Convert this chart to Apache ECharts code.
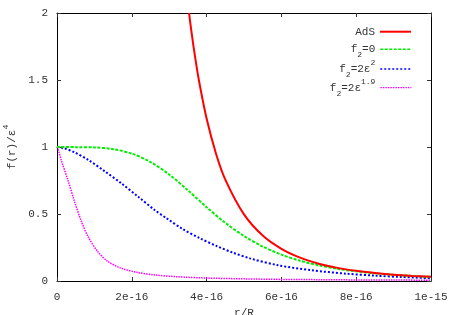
<!DOCTYPE html>
<html>
<head>
<meta charset="utf-8">
<script src="https://cdn.jsdelivr.net/npm/echarts@6/dist/echarts.min.js"></script>
<style>html,body{margin:0;padding:0;background:#fff}#c{width:450px;height:315px}</style>
</head>
<body>
<div id="c"></div>
<script>
// tick labels
const xTickLabels = ['0', '2e-16', '4e-16', '6e-16', '8e-16', '1e-15'];
const yTickLabels = ['0', '0.5', '1', '1.5', '2'];

// AdS
const adsR = [3.53e-16, 3.6e-16, 3.7e-16, 3.8e-16, 4.0e-16, 4.25e-16, 4.5e-16, 5.0e-16, 5.5e-16, 6.0e-16, 6.5e-16, 7.0e-16, 7.5e-16, 8.0e-16, 8.5e-16, 9.0e-16, 9.5e-16, 1.0e-15];
const adsF = [2.0, 1.849, 1.657, 1.489, 1.213, 0.952, 0.757, 0.497, 0.339, 0.240, 0.174, 0.129, 0.098, 0.076, 0.060, 0.047, 0.038, 0.031];

// f2 = 0
const f0R = [0, 0.5e-16, 1.0e-16, 1.5e-16, 2.0e-16, 2.5e-16, 3.0e-16, 3.5e-16, 4.0e-16, 4.5e-16, 5.0e-16, 5.5e-16, 6.0e-16, 6.5e-16, 7.0e-16, 7.5e-16, 8.0e-16, 8.5e-16, 9.0e-16, 9.5e-16, 1.0e-15];
const f0F = [1.0, 0.999, 0.997, 0.984, 0.951, 0.888, 0.795, 0.677, 0.551, 0.434, 0.336, 0.257, 0.197, 0.151, 0.117, 0.091, 0.072, 0.057, 0.046, 0.037, 0.031];

// f2 = 2 eps^2
const f2R = [0, 0.2e-16, 0.47e-16, 0.83e-16, 1.27e-16, 1.72e-16, 2.17e-16, 2.61e-16, 2.93e-16, 3.37e-16, 3.82e-16, 4.27e-16, 4.71e-16, 5.16e-16, 5.92e-16, 6.81e-16, 7.71e-16, 8.5e-16, 9.2e-16, 1.0e-15];
const f2F = [1.0, 0.99, 0.96, 0.905, 0.82, 0.729, 0.629, 0.53, 0.468, 0.386, 0.319, 0.261, 0.211, 0.169, 0.117, 0.080, 0.055, 0.040, 0.030, 0.021];

// f2 = 2 eps^1.9
const f19R = [0, 0.05e-16, 0.11e-16, 0.29e-16, 0.47e-16, 0.65e-16, 0.83e-16, 1.09e-16, 1.36e-16, 1.72e-16, 2.17e-16, 2.61e-16, 3.2e-16, 4.0e-16, 5.0e-16, 6.0e-16, 7.0e-16, 8.0e-16, 9.0e-16, 1.0e-15];
const f19F = [1.0, 0.965, 0.905, 0.754, 0.592, 0.446, 0.331, 0.219, 0.146, 0.095, 0.063, 0.045, 0.032, 0.022, 0.016, 0.012, 0.010, 0.008, 0.007, 0.006];

const pairs = (xs, ys) => xs.map((x, i) => [x, ys[i]]);

const FONT = 'Liberation Mono';
const TXT = '#333';
const rich = {
  m: { fontFamily: FONT, fontSize: 11, color: TXT, lineHeight: 20 },
  sub: { fontFamily: FONT, fontSize: 8, color: TXT, lineHeight: 8, verticalAlign: 'bottom' },
  sup: { fontFamily: FONT, fontSize: 8, color: TXT, lineHeight: 8, verticalAlign: 'top' }
};
const names = ['AdS', 'f2=0', 'f2=2e2', 'f2=2e1.9'];
const richNames = {
  'AdS': '{m|AdS}',
  'f2=0': '{m|f}{sub|2}{m|=0}',
  'f2=2e2': '{m|f}{sub|2}{m|=2ε}{sup|2}',
  'f2=2e1.9': '{m|f}{sub|2}{m|=2ε}{sup|1.9}'
};
const legendCenters = [26.7, 44.3, 64, 82.7];
const legendWidths = [2, 1.5, 1.5, 1.2];

const chart = echarts.init(document.getElementById('c'), null, { renderer: 'canvas' });
const axisLineStyle = { color: '#000', width: 1 };
const tickStyle = { color: '#333', width: 1 };
const common = { symbol: 'none', smooth: 0.3, type: 'line' };

chart.setOption({
  backgroundColor: '#fff',
  animation: false,
  grid: { left: 57, right: 19, top: 13, bottom: 34, containLabel: false, outerBoundsMode: 'none' },
  legend: names.map((n, i) => ({
    data: [n],
    right: 33,
    top: legendCenters[i] - 10,
    align: 'right',
    itemWidth: 31,
    itemHeight: 20,
    itemStyle: { opacity: 0 },
    lineStyle: { width: legendWidths[i] },
    formatter: () => richNames[n],
    textStyle: { rich: rich, fontFamily: FONT, fontSize: 11, color: TXT, lineHeight: 20 }
  })),
  xAxis: [{
    type: 'value', min: 0, max: 1e-15, interval: 2e-16, position: 'bottom',
    axisLine: { show: true, onZero: false, lineStyle: axisLineStyle },
    axisTick: { show: true, inside: true, length: 4, lineStyle: tickStyle },
    splitLine: { show: false },
    axisLabel: { fontFamily: FONT, fontSize: 11, color: TXT, margin: 11,
      formatter: v => xTickLabels[Math.round(v / 2e-16)] },
    name: 'r/R', nameLocation: 'middle', nameGap: 18,
    nameTextStyle: { fontFamily: FONT, fontSize: 11, color: TXT }
  }, {
    type: 'value', min: 0, max: 1e-15, interval: 2e-16, position: 'top',
    axisLine: { show: true, onZero: false, lineStyle: axisLineStyle },
    axisTick: { show: true, inside: true, length: 4, lineStyle: tickStyle },
    splitLine: { show: false }, axisLabel: { show: false }
  }],
  yAxis: [{
    type: 'value', min: 0, max: 2, interval: 0.5, position: 'left',
    axisLine: { show: true, onZero: false, lineStyle: axisLineStyle },
    axisTick: { show: true, inside: true, length: 4, lineStyle: tickStyle },
    splitLine: { show: false },
    axisLabel: { fontFamily: FONT, fontSize: 11, color: TXT, margin: 9,
      formatter: v => yTickLabels[Math.round(v / 0.5)] },
    name: '{m|f(r)/ε}{sup|4}', nameLocation: 'middle', nameGap: 35, nameRotate: 90,
    nameTextStyle: { rich: rich, fontFamily: FONT, fontSize: 11, color: TXT }
  }, {
    type: 'value', min: 0, max: 2, interval: 0.5, position: 'right',
    axisLine: { show: true, onZero: false, lineStyle: axisLineStyle },
    axisTick: { show: true, inside: true, length: 4, lineStyle: tickStyle },
    splitLine: { show: false }, axisLabel: { show: false }
  }],
  series: [
    Object.assign({ name: 'AdS', data: pairs(adsR, adsF), z: 5,
      lineStyle: { color: '#ff0000', width: 2 }, itemStyle: { color: '#ff0000' } }, common),
    Object.assign({ name: 'f2=0', data: pairs(f0R, f0F), z: 4,
      lineStyle: { color: '#00ee00', width: 2, type: [3, 1.5] }, itemStyle: { color: '#00ee00' } }, common),
    Object.assign({ name: 'f2=2e2', data: pairs(f2R, f2F), z: 3,
      lineStyle: { color: '#0000ff', width: 2, type: [2, 2] }, itemStyle: { color: '#0000ff' } }, common),
    Object.assign({ name: 'f2=2e1.9', data: pairs(f19R, f19F), z: 2,
      lineStyle: { color: '#ff00ff', width: 1.5, type: [1.5, 1] }, itemStyle: { color: '#ff00ff' } }, common)
  ]
});
</script>
</body>
</html>
